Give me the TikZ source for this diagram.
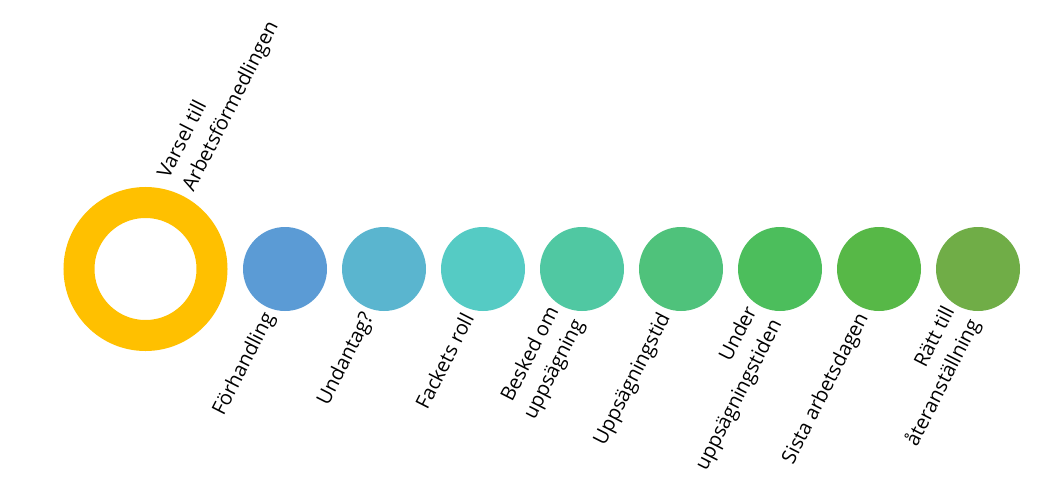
\documentclass[tikz,border=0pt]{standalone}
\usepackage{fontspec}
\setmainfont{Open Sans}
\definecolor{ringc}{HTML}{FFC000}
\definecolor{c1}{HTML}{5B9BD5}
\definecolor{c2}{HTML}{5AB5CF}
\definecolor{c3}{HTML}{55CBC4}
\definecolor{c4}{HTML}{50C8A2}
\definecolor{c5}{HTML}{4FC27B}
\definecolor{c6}{HTML}{4CBE5C}
\definecolor{c7}{HTML}{57B847}
\definecolor{c8}{HTML}{70AD47}
\begin{document}
\begin{tikzpicture}[x=0.75pt,y=0.75pt,
  dot/.style={circle,inner sep=0pt,minimum size=63pt,fill=#1},
  ringnode/.style={circle,inner sep=0pt,minimum size=99.75pt,draw=ringc,line width=23.25pt},
  lbl/.style={rotate=63,inner sep=0pt,font=\fontsize{15}{21}\selectfont},
  lowlbl/.style={lbl,anchor=east,align=right},
  toplbl/.style={lbl,anchor=west,align=left}]
\useasboundingbox (0,0) rectangle (1056,480);
\node[ringnode] (r0) at (145.5,211) {};
\node[dot=c1] (d1) at (285,211) {};
\node[dot=c2] (d2) at (384,211) {};
\node[dot=c3] (d3) at (483,211) {};
\node[dot=c4] (d4) at (582,211) {};
\node[dot=c5] (d5) at (681,211) {};
\node[dot=c6] (d6) at (780,211) {};
\node[dot=c7] (d7) at (879,211) {};
\node[dot=c8] (d8) at (978,211) {};
\node[toplbl] (t0) at ([shift={(31,85)}]r0.center) {Varsel till\\Arbetsförmedlingen};
\node[lowlbl] (t1) at ([shift={(-15,-45.5)}]d1.center) {Förhandling};
\node[lowlbl] (t2) at ([shift={(-15,-45.5)}]d2.center) {Undantag?};
\node[lowlbl] (t3) at ([shift={(-15,-45.5)}]d3.center) {Fackets roll};
\node[lowlbl] (t4) at ([shift={(-15,-45.5)}]d4.center) {Besked om\\uppsägning};
\node[lowlbl] (t5) at ([shift={(-15,-45.5)}]d5.center) {Uppsägningstid};
\node[lowlbl] (t6) at ([shift={(-15,-45.5)}]d6.center) {Under\\uppsägningstiden};
\node[lowlbl] (t7) at ([shift={(-15,-45.5)}]d7.center) {Sista arbetsdagen};
\node[lowlbl] (t8) at ([shift={(-15,-45.5)}]d8.center) {Rätt till\\återanställning};
\end{tikzpicture}
\end{document}
